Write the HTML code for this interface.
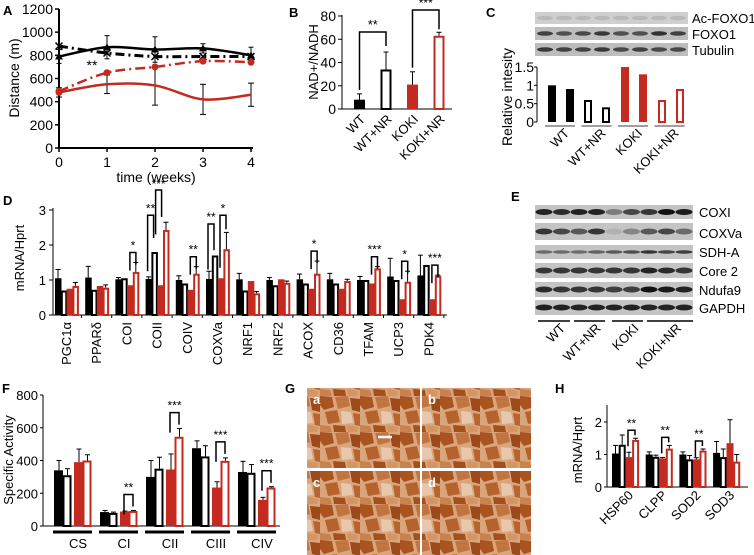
<!DOCTYPE html>
<html><head><meta charset="utf-8"><style>
html,body{margin:0;padding:0;background:#fff;}
svg{display:block;font-family:"Liberation Sans",sans-serif;}
</style></head><body>
<svg id="fig" width="754" height="555" viewBox="0 0 754 555" xmlns="http://www.w3.org/2000/svg">
<defs>
<pattern id="tissue" width="40" height="36" patternUnits="userSpaceOnUse">
<rect width="40" height="36" fill="#d9a57c"/>
<polygon points="0,0 12,1 14,11 4,14 0,9" fill="#a9541f"/>
<polygon points="15,1 28,0 30,10 18,13" fill="#c27540"/>
<polygon points="30,2 40,3 40,16 32,14" fill="#9c4a1a"/>
<polygon points="5,16 17,14 20,26 8,28" fill="#b5622c"/>
<polygon points="21,15 31,16 33,27 22,28" fill="#e8c8ac"/>
<polygon points="33,17 40,18 40,30 35,29" fill="#b7642e"/>
<polygon points="0,29 10,30 12,36 0,36" fill="#c9824e"/>
<polygon points="13,29 25,30 26,36 14,36" fill="#a3501d"/>
<polygon points="27,29 38,31 37,36 28,36" fill="#d59563"/>
</pattern>
</defs>
<g id="root"></g>
</svg>
<script>
// ---------- data ----------
const aWeeks=[0,1,2,3,4];
const aWT=[790,870,850,860,800];
const aWTNR=[880,820,790,790,790];
const aKOKI=[480,550,540,420,460];
const aKOKINR=[490,650,700,750,740];
const aErrWT=[60,100,110,40,70];
const aErrKOKI=[40,80,170,130,100];
const aYTicks=[0,200,400,600,800,1000,1200];

const bCats=["WT","WT+NR","KOKI","KOKI+NR"];
const bVals=[8,34,21,63];
const bErr=[5,15,11,3];
const bTicks=[0,20,40,60,80];

const cVals=[1.0,0.9,0.6,0.4,1.5,1.3,0.6,0.9];
const cTicks=["0","0.5","1","1.5"];
const cBlots=["Ac-FOXO1","FOXO1","Tubulin"];

const dCats=["PGC1α","PPARδ","COI","COII","COIV","COXVa","NRF1","NRF2","ACOX","CD36","TFAM","UCP3","PDK4"];
const dWT=[1.05,1.07,1.02,1.03,1.0,1.03,1.02,1.0,1.02,1.02,1.0,1.1,1.13];
const dWTNR=[0.7,0.72,1.05,1.8,0.9,1.7,0.7,0.85,0.9,0.9,1.0,1.0,1.43];
const dKOKI=[0.75,0.83,0.85,0.85,0.72,1.05,0.97,1.02,0.75,0.75,0.9,0.45,0.45];
const dKOKINR=[0.83,0.78,1.23,2.43,1.18,1.88,0.62,0.92,1.18,0.97,1.33,0.95,1.12];
const dErr=[0.25,0.32,0.05,0.06,0.12,0.22,0.17,0.07,0.15,0.17,0.1,0.52,0.58];
const dErr2=[0.1,0.08,0.27,0.22,0.2,0.48,0.05,0.05,0.36,0.05,0.05,0.3,0.02];
const dTicks=[0,1,2,3];

const eBlots=["COXI","COXVa","SDH-A","Core 2","Ndufa9","GAPDH"];

const fCats=["CS","CI","CII","CIII","CIV"];
const fWT=[340,85,300,475,330];
const fWTNR=[310,80,350,425,325];
const fKOKI=[390,88,345,235,160];
const fKOKINR=[400,92,545,398,235];
const fErr=[[60,10,100,45,65],[40,5,70,65,50],[80,3,95,35,15],[35,3,50,18,5]];
const fTicks=[0,200,400,600,800];

const hCats=["HSP60","CLPP","SOD2","SOD3"];
const hWT=[1.03,1.0,1.0,1.05];
const hWTNR=[1.3,0.93,0.85,0.92];
const hKOKI=[0.92,0.88,0.85,1.35];
const hKOKINR=[1.45,1.18,1.12,0.78];
const hErr=[[0.25,0.08,0.08,0.35],[0.3,0.05,0.12,0.25],[0.15,0.03,0.05,0.72],[0.05,0.1,0.05,0.22]];
const hTicks=[0,1,2];

const groupNames=["WT","WT+NR","KOKI","KOKI+NR"];

// ---------- helpers ----------
const NS="http://www.w3.org/2000/svg";
const root=document.getElementById('root');
const RED="#c42a1f";
function el(tag,attrs,parent,name){
  const e=document.createElementNS(NS,tag);
  for(const k in attrs)e.setAttribute(k,attrs[k]);
  
  
  (parent||root).appendChild(e);return e;
}
function txt(s,attrs,parent,name){const t=el('text',attrs,parent,name);t.textContent=s;return t;}
function lin(x1,y1,x2,y2,parent,name,w,c){return el('line',{x1,y1,x2,y2,stroke:c||'#000','stroke-width':w||1},parent,name);}
function errBar(x,y0,y1,parent,c){
  lin(x,y0,x,y1,parent,'error-bar',1,c||'#000');
  lin(x-2.5,y1,x+2.5,y1,parent,'error-cap',1,c||'#000');
}
function bracket(x1,x2,y,yb1,yb2,label,parent,fs){
  el('path',{d:`M${x1},${yb1}V${y}H${x2}V${yb2}`,fill:'none',stroke:'#000','stroke-width':1.5},parent,'significance-bracket');
  if(label)txt(label,{x:(x1+x2)/2,y:y-3,'font-size':fs||12,'text-anchor':'middle'},parent,'significance-stars');
}
function bar(x,w,yTop,yBase,kind,parent){
  const filled=(kind===0||kind===2);
  const col=(kind<2)?'#000':RED;
  const h=Math.max(0,yBase-yTop);
  if(filled) return el('rect',{x,y:yTop,width:w,height:h,fill:col},parent,'bar-'+groupNames[kind].toLowerCase().replace('+','-'));
  return el('rect',{x:x+1,y:yTop+1,width:w-2,height:Math.max(0,h-1),fill:'#fff',stroke:col,'stroke-width':2},parent,'bar-'+groupNames[kind].toLowerCase().replace('+','-'));
}
function panelLabel(s,x,y){txt(s,{x,y,'font-size':13,'font-weight':'bold'},root,'panel-label-'+s.toLowerCase());}

// ---------- Panel A ----------
(function(){
  const g=el('g',{},root,'panel-a');
  const X=v=>59+v*48, Y=v=>148-v*(139/1200);
  panelLabel('A',3,15);
  lin(59,148,59,9,g,'y-axis',2);lin(59,148,253,148,g,'x-axis',2);
  aYTicks.forEach(t=>{lin(55,Y(t),59,Y(t),g,'y-tick',1.5);txt(String(t),{x:53,y:Y(t)+5,'font-size':14,'text-anchor':'end'},g,'y-tick-label');});
  aWeeks.forEach(w=>{lin(X(w),148,X(w),152,g,'x-tick',1.5);txt(String(w),{x:X(w),y:167,'font-size':14,'text-anchor':'middle'},g,'x-tick-label');});
  txt('time (weeks)',{x:156,y:182,'font-size':14,'text-anchor':'middle'},g,'x-axis-title');
  txt('Distance (m)',{x:0,y:0,'font-size':14,'text-anchor':'middle',transform:'translate(19,78) rotate(-90)'},g,'y-axis-title');
  function smooth(vals){
    const p=vals.map((v,i)=>[X(aWeeks[i]),Y(v)]);
    let d=`M${p[0][0]},${p[0][1]}`;
    for(let i=0;i<p.length-1;i++){
      const p0=p[Math.max(0,i-1)],p1=p[i],p2=p[i+1],p3=p[Math.min(p.length-1,i+2)];
      d+=` C${p1[0]+(p2[0]-p0[0])/6},${p1[1]+(p2[1]-p0[1])/6} ${p2[0]-(p3[0]-p1[0])/6},${p2[1]-(p3[1]-p1[1])/6} ${p2[0]},${p2[1]}`;
    }
    return d;
  }
  aWeeks.forEach((w,i)=>{errBar(X(w),Y(aWT[i]),Y(aWT[i]+aErrWT[i]),g);lin(X(w)-2.5,Y(aWT[i]-aErrWT[i]),X(w)+2.5,Y(aWT[i]-aErrWT[i]),g,'error-cap');lin(X(w),Y(aWT[i]),X(w),Y(aWT[i]-aErrWT[i]),g,'error-bar');});
  aWeeks.forEach((w,i)=>{lin(X(w),Y(aKOKI[i]+aErrKOKI[i]),X(w),Y(aKOKI[i]-aErrKOKI[i]),g,'error-bar');lin(X(w)-3,Y(aKOKI[i]+aErrKOKI[i]),X(w)+3,Y(aKOKI[i]+aErrKOKI[i]),g,'error-cap');lin(X(w)-3,Y(aKOKI[i]-aErrKOKI[i]),X(w)+3,Y(aKOKI[i]-aErrKOKI[i]),g,'error-cap');});
  el('path',{d:smooth(aWT),fill:'none',stroke:'#000','stroke-width':2.5},g,'line-wt');
  el('path',{d:smooth(aWTNR),fill:'none',stroke:'#000','stroke-width':3,'stroke-dasharray':'9,4,2,4'},g,'line-wt-nr');
  el('path',{d:smooth(aKOKI),fill:'none',stroke:RED,'stroke-width':2.5},g,'line-koki');
  el('path',{d:smooth(aKOKINR),fill:'none',stroke:RED,'stroke-width':2.5,'stroke-dasharray':'10,4,2,4'},g,'line-koki-nr');
  aWeeks.forEach((w,i)=>{
    const x=X(w),y=Y(aWT[i]);el('path',{d:`M${x-4},${y+3}L${x},${y-4}L${x+4},${y+3}Z`,fill:'#000'},g,'marker-wt');
    const y2=Y(aWTNR[i]);el('path',{d:`M${x-3.5},${y2-3.5}L${x+3.5},${y2+3.5}M${x+3.5},${y2-3.5}L${x-3.5},${y2+3.5}`,stroke:'#000','stroke-width':1.5},g,'marker-wt-nr');
    el('circle',{cx:x,cy:Y(aKOKINR[i]),r:3.5,fill:RED},g,'marker-koki-nr');
    if(i===0)el('circle',{cx:x,cy:Y(aKOKI[i]),r:3.5,fill:RED},g,'marker-koki');
  });
  txt('**',{x:92,y:70,'font-size':14,'text-anchor':'middle'},g,'significance-stars');
})();

// ---------- Panel B ----------
(function(){
  const g=el('g',{},root,'panel-b');
  const Y=v=>109-v*(93/80);
  panelLabel('B',289,17);
  lin(342,109,342,15,g,'y-axis',1);lin(342,109,452,109,g,'x-axis',1);
  bTicks.forEach(t=>{lin(338,Y(t),342,Y(t),g,'y-tick');txt(String(t),{x:336,y:Y(t)+5,'font-size':14,'text-anchor':'end'},g,'y-tick-label');});
  txt('NAD+/NADH',{x:0,y:0,'font-size':13,'text-anchor':'middle',transform:'translate(318,62) rotate(-90)'},g,'y-axis-title');
  const xs=bCats.map((c,i)=>354+i*26.5);
  bCats.forEach((c,i)=>{
    errBar(xs[i]+5.5,Y(bVals[i]),Y(bVals[i]+bErr[i]),g,'#000');
    bar(xs[i],11,Y(bVals[i]),109,i,g);
    txt(c,{x:0,y:0,'font-size':13,'text-anchor':'end',transform:`translate(${xs[i]+12},120) rotate(-45)`},g,'x-tick-label');
  });
  bracket(xs[0]+5.5,xs[1]+5.5,32,Y(bVals[0]+bErr[0])-4,Y(bVals[1]+bErr[1])-6,'**',g,13);
  bracket(xs[2]+5.5,xs[3]+5.5,10,Y(bVals[2]+bErr[2])-4,Y(bVals[3]+bErr[3])-3,'***',g,12);
})();

// ---------- Panel C ----------
(function(){
  const g=el('g',{},root,'panel-c');
  panelLabel('C',486,17);
  const rows=[[12,24],[27,40],[43,56]];
  const inten=[[0.12,0.12,0.12,0.12,0.12,0.12,0.12,0.12],[0.8,0.7,0.75,0.85,0.7,0.7,0.9,0.8],[0.85,0.8,0.8,0.85,0.75,0.8,0.75,0.75]];
  cBlots.forEach((n,r)=>{
    el('rect',{x:535,y:rows[r][0],width:153,height:rows[r][1]-rows[r][0],fill:r===0?'#cfcfcf':'#bdbdbd'},g,'blot-'+n.toLowerCase());
    for(let k=0;k<8;k++){el('ellipse',{cx:545+k*19,cy:(rows[r][0]+rows[r][1])/2,rx:8,ry:2.3,fill:'#222','fill-opacity':inten[r][k]},g,'blot-band');}
    txt(n,{x:692,y:rows[r][1]-1,'font-size':13},g,'blot-label');
  });
  const Y=v=>122-v*(55/1.5);
  lin(537,122,537,67,g,'y-axis',1);
  cTicks.forEach(t=>{const v=parseFloat(t);txt(t,{x:534,y:Y(v)+5,'font-size':14,'text-anchor':'end'},g,'y-tick-label');lin(534,Y(v),537,Y(v),g,'y-tick');});
  txt('Relative intesity',{x:0,y:0,'font-size':14,'text-anchor':'middle',transform:'translate(512,97) rotate(-90)'},g,'y-axis-title');
  const xs=[548,566,584,602,621,639,658,676];
  cVals.forEach((v,i)=>bar(xs[i],8,Y(v),122,Math.floor(i/2),g));
  for(let k=0;k<4;k++){lin(545+k*36.5,126,575+k*36.5,126,g,'group-underline',1.2,'#666');
    txt(groupNames[k],{x:0,y:0,'font-size':13,'text-anchor':'end',transform:`translate(${570+k*36.5},134) rotate(-45)`},g,'x-tick-label');}
})();

// ---------- Panel D ----------
(function(){
  const g=el('g',{},root,'panel-d');
  panelLabel('D',3,205);
  const Y=v=>315-v*35;
  lin(53,315,53,208,g,'y-axis',1);lin(53,315,447,315,g,'x-axis',1);
  dTicks.forEach(t=>{lin(49,Y(t),53,Y(t),g,'y-tick');txt(String(t),{x:46,y:Y(t)+5,'font-size':13,'text-anchor':'end'},g,'y-tick-label');});
  txt('mRNA/Hprt',{x:0,y:0,'font-size':13,'text-anchor':'middle',transform:'translate(24,258) rotate(-90)'},g,'y-axis-title');
  const series=[dWT,dWTNR,dKOKI,dKOKINR];
  dCats.forEach((c,i)=>{
    const gx=55+i*30.2;
    lin(gx+26.5,315,gx+26.5,318,g,'x-tick');
    series.forEach((s,k)=>{
      const x=gx+k*5.8;
      if(k===0)errBar(x+3,Y(s[i]),Y(s[i]+dErr[i]),g,'#000');
      if(k===3)errBar(x+3,Y(s[i]),Y(s[i]+dErr2[i]),g,'#000');
      bar(x,6.5,Y(s[i]),315,k,g);
    });
    txt(c,{x:0,y:0,'font-size':13,'text-anchor':'end',transform:`translate(${gx+16},322) rotate(-90)`},g,'x-tick-label');
  });
  const br=[[2,'*'],[4,'**'],[8,'*'],[10,'***'],[11,'*'],[12,'***']];
  br.forEach(([i,s])=>{const gx=55+i*30.2;const top=Y(Math.max(dKOKI[i],dKOKINR[i]+dErr2[i]))-10;bracket(gx+14.5,gx+20.5,top,top+18,top+12,s,g,12);});
  // COII
  (function(){const i=3,gx=55+i*30.2;
    bracket(gx+2,gx+8,Y(2.85),Y(1.25),Y(2.2),'**',g,12);
    bracket(gx+10,gx+16,190,Y(2.3),Y(2.8),'',g);
    txt('***',{x:gx+13,y:188,'font-size':12,'text-anchor':'middle'},g,'significance-stars');})();
  // COXVa
  (function(){const i=5,gx=55+i*30.2;
    bracket(gx+2,gx+8,Y(2.6),Y(1.3),Y(1.85),'**',g,12);
    bracket(gx+14,gx+20,Y(2.85),Y(1.35),Y(2.45),'*',g,12);})();
})();

// ---------- Panel E ----------
(function(){
  const g=el('g',{},root,'panel-e');
  panelLabel('E',511,201);
  const rows=[[205,219],[223,240],[245,259],[263,278],[282,297],[300,315]];
  const inten=[[0.9,0.85,0.9,0.9,0.4,0.7,0.8,1,0.95],[0.8,0.7,0.6,0.8,0.1,0.35,0.6,0.7,0.5],[0.5,0.5,0.5,0.55,0.6,0.65,0.8,0.7,0.75],[0.8,0.8,0.8,0.8,0.8,0.8,0.9,0.85,0.8],[0.85,0.8,0.8,0.8,0.75,0.75,1,0.95,0.9],[0.9,0.9,0.9,0.9,0.9,0.9,0.9,0.9,0.9]];
  eBlots.forEach((n,r)=>{
    el('rect',{x:535,y:rows[r][0],width:158,height:rows[r][1]-rows[r][0],fill:'#c4c4c4'},g,'blot-'+n.toLowerCase().replace(' ','-'));
    for(let k=0;k<9;k++)el('ellipse',{cx:544+k*17.5,cy:(rows[r][0]+rows[r][1])/2,rx:8.5,ry:r===2?1.8:3,fill:'#111','fill-opacity':inten[r][k]},g,'blot-band');
    txt(n,{x:699,y:rows[r][1]-2,'font-size':13},g,'blot-label');
  });
  const seg=[[538,570],[574,605],[612,643],[647,693]];
  seg.forEach((s,k)=>{lin(s[0],321,s[1],321,g,'group-underline',1.5);
    txt(groupNames[k],{x:0,y:0,'font-size':13,'text-anchor':'end',transform:`translate(${(s[0]+s[1])/2+12},329) rotate(-45)`},g,'x-tick-label');});
})();

// ---------- Panel F ----------
(function(){
  const g=el('g',{},root,'panel-f');
  panelLabel('F',2,393);
  const Y=v=>526-v*(131/800);
  lin(43,526,43,395,g,'y-axis',1);lin(43,526,280,526,g,'x-axis',1);
  fTicks.forEach(t=>{lin(40,Y(t),43,Y(t),g,'y-tick');txt(String(t),{x:38,y:Y(t)+5,'font-size':13,'text-anchor':'end'},g,'y-tick-label');});
  txt('Specific Activity',{x:0,y:0,'font-size':13,'text-anchor':'middle',transform:'translate(13,460) rotate(-90)'},g,'y-axis-title');
  const series=[fWT,fWTNR,fKOKI,fKOKINR];const offs=[0,8.5,20,28.5];
  fCats.forEach((c,i)=>{
    const gx=54+i*46;
    series.forEach((s,k)=>{errBar(gx+offs[k]+5,Y(s[i]),Y(s[i]+fErr[k][i]),g,'#000');bar(gx+offs[k],9,Y(s[i]),526,k,g);});
    lin(gx-1,532,gx+38,532,g,'group-underline',3);
    txt(c,{x:gx+24,y:548,'font-size':13,'text-anchor':'middle'},g,'x-tick-label');
  });
  [[1,'**'],[2,'***'],[3,'***'],[4,'***']].forEach(([i,s])=>{const gx=54+i*46;const top=Y(fKOKINR[i]+fErr[3][i])-16;bracket(gx+24,gx+33,top,top+20,top+12,s,g,12);});
})();

// ---------- Panel G ----------
(function(){
  const g=el('g',{},root,'panel-g');
  panelLabel('G',285,393);
  const q=[[307,388,113,80,'a'],[422,388,109,80,'b'],[307,471,113,84,'c'],[422,471,109,84,'d']];
  q.forEach(([x,y,w,h,l],n)=>{
    el('rect',{x,y,width:w,height:h,fill:'url(#tissue)',transform:n%2?'':''},g,'micrograph-'+l);
    txt(l,{x:x+6,y:y+16,'font-size':13,'font-weight':'bold',fill:'#fff'},g,'micrograph-label-'+l);
  });
  lin(378,437,392,437,g,'scale-bar',2.5,'#fff');
})();

// ---------- Panel H ----------
(function(){
  const g=el('g',{},root,'panel-h');
  panelLabel('H',555,393);
  const Y=v=>487-v*32.5;
  lin(607,487,607,405,g,'y-axis',1);lin(607,487,748,487,g,'x-axis',1);
  hTicks.forEach(t=>{lin(604,Y(t),607,Y(t),g,'y-tick');txt(String(t),{x:602,y:Y(t)+5,'font-size':13,'text-anchor':'end'},g,'y-tick-label');});
  txt('mRNA/Hprt',{x:0,y:0,'font-size':13,'text-anchor':'middle',transform:'translate(582,450) rotate(-90)'},g,'y-axis-title');
  const series=[hWT,hWTNR,hKOKI,hKOKINR];
  hCats.forEach((c,i)=>{
    const gx=612+i*33.7;
    series.forEach((s,k)=>{errBar(gx+k*6.7+3.5,Y(s[i]),Y(s[i]+hErr[k][i]),g,'#000');bar(gx+k*6.7,7,Y(s[i]),487,k,g);});
    txt(c,{x:0,y:0,'font-size':13,'text-anchor':'end',transform:`translate(${gx+22},496) rotate(-45)`},g,'x-tick-label');
  });
  [0,1,2].forEach(i=>{const gx=612+i*33.7;const top=Y(hKOKINR[i]+hErr[3][i])-8;bracket(gx+16,gx+23,top,top+16,top+5,'**',g,12);});
})();
</script>
</body></html>
